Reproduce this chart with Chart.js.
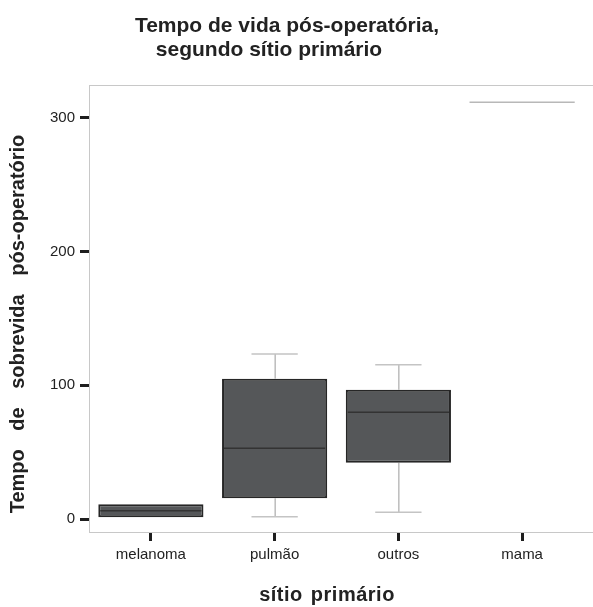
<!DOCTYPE html>
<html>
<head>
<meta charset="utf-8">
<script src="https://cdn.jsdelivr.net/npm/chart.js@4"></script>
<style>
  html, body { margin: 0; padding: 0; background: #fff; }
  #wrap { width: 593px; height: 607px; }
</style>
</head>
<body>
<div id="wrap"><canvas id="boxChart"></canvas></div>
<script>
// dados
const categorias = ['melanoma', 'pulmão', 'outros', 'mama'];
const bigodeMin = [1.3, 1.7, 5.0, 311.7];
const q1 = [1.3, 15.5, 42.1, 311.7];
const mediana = [6.2, 52.9, 79.8, 311.7];
const q3 = [11.0, 105.0, 96.7, 311.7];
const bigodeMax = [11.0, 123.4, 115.4, 311.7];
const yTicks = [0, 100, 200, 300];

const fonte = '"Liberation Sans", Arial, sans-serif';

const boxPlugin = {
    id: 'boxExtras',
    beforeDatasetsDraw(chart) {
        const { ctx, chartArea, width } = chart;
        ctx.save();
        ctx.strokeStyle = '#c8c8c8';
        ctx.lineWidth = 1;
        ctx.beginPath();
        ctx.moveTo(chartArea.left, chartArea.top + 0.5);
        ctx.lineTo(width, chartArea.top + 0.5);
        ctx.moveTo(chartArea.right, chartArea.bottom + 0.5);
        ctx.lineTo(width, chartArea.bottom + 0.5);
        ctx.stroke();

        // bigodes
        const x = chart.scales.x, y = chart.scales.y;
        const meta = chart.getDatasetMeta(0);
        meta.data.forEach((bar, i) => {
            if (q1[i] === q3[i]) return;
            const cx = x.getPixelForValue(i);
            const capW = bar.width * 0.44;
            ctx.strokeStyle = '#9a9a9a';
            ctx.lineWidth = 1;
            ctx.beginPath();
            ctx.moveTo(cx + 0.5, y.getPixelForValue(bigodeMax[i]));
            ctx.lineTo(cx + 0.5, y.getPixelForValue(q3[i]));
            ctx.moveTo(cx + 0.5, y.getPixelForValue(q1[i]));
            ctx.lineTo(cx + 0.5, y.getPixelForValue(bigodeMin[i]));
            ctx.stroke();
            ctx.strokeStyle = '#c4c4c4';
            ctx.lineWidth = 1.5;
            ctx.beginPath();
            [bigodeMax[i], bigodeMin[i]].forEach(v => {
                if (v === q1[i] || v === q3[i]) return;
                const py = y.getPixelForValue(v);
                ctx.moveTo(cx - capW / 2, py);
                ctx.lineTo(cx + capW / 2, py);
            });
            ctx.stroke();
        });
        ctx.restore();
    },
    afterDatasetsDraw(chart) {
        const { ctx } = chart;
        const x = chart.scales.x, y = chart.scales.y;
        const meta = chart.getDatasetMeta(0);
        ctx.save();
        meta.data.forEach((bar, i) => {
            const cx = x.getPixelForValue(i);
            const py = y.getPixelForValue(mediana[i]);
            const unico = q1[i] === q3[i];
            ctx.strokeStyle = unico ? '#b8b8b8' : '#333';
            ctx.lineWidth = 1.5;
            ctx.beginPath();
            ctx.moveTo(cx - bar.width / 2 + (unico ? 0 : 2), py);
            ctx.lineTo(cx + bar.width / 2 - (unico ? 0 : 2), py);
            ctx.stroke();
        });
        ctx.restore();
    },
    afterDraw(chart) {
        const { ctx } = chart;
        ctx.save();
        ctx.fillStyle = '#222';
        ctx.textAlign = 'center';
        ctx.textBaseline = 'alphabetic';
        ctx.font = 'bold 21px ' + fonte;
        ctx.fillText('Tempo de vida pós-operatória,', 287, 32);
        ctx.fillText('segundo sítio primário', 269, 56);

        ctx.font = 'bold 20px ' + fonte;
        ctx.letterSpacing = '0.5px';
        ctx.wordSpacing = '2px';
        ctx.fillText('sítio primário', 327, 601);

        ctx.font = 'bold 20px ' + fonte;
        ctx.letterSpacing = '0px';
        ctx.wordSpacing = '13px';
        ctx.textBaseline = 'middle';
        ctx.translate(18, 324);
        ctx.rotate(-Math.PI / 2);
        ctx.fillText('Tempo de sobrevida pós-operatório', 0, 0);
        ctx.restore();
    }
};

new Chart(document.getElementById('boxChart').getContext('2d'), {
    type: 'bar',
    data: {
        labels: categorias,
        datasets: [{
            data: categorias.map((c, i) => [q1[i], q3[i]]),
            backgroundColor: categorias.map((c, i) => q1[i] === q3[i] ? 'rgba(0,0,0,0)' : '#555759'),
            borderColor: '#262626',
            borderWidth: categorias.map((c, i) => q1[i] === q3[i] ? 0 : 2),
            borderSkipped: false,
            barPercentage: 0.85,
            categoryPercentage: 1
        }]
    },
    options: {
        responsive: true,
        maintainAspectRatio: false,
        animation: false,
        layout: { padding: { top: 85, right: 9, left: 0, bottom: 0 } },
        plugins: { legend: { display: false }, tooltip: { enabled: false }, title: { display: false } },
        scales: {
            x: {
                grid: { offset: false, drawOnChartArea: false, drawTicks: true, tickLength: 9, tickWidth: 3, tickColor: '#1e1e1e' },
                border: { display: true, color: '#c8c8c8', width: 1 },
                ticks: { color: '#222', font: { family: fonte, size: 15 }, padding: 5, maxRotation: 0 },
                afterFit(scale) { scale.height = 75; }
            },
            y: {
                min: -9.7,
                max: 324.6,
                afterBuildTicks(scale) { scale.ticks = yTicks.map(v => ({ value: v })); },
                grid: { drawOnChartArea: false, drawTicks: true, tickLength: 9, tickWidth: 3, tickColor: '#1e1e1e' },
                border: { display: true, color: '#c8c8c8', width: 1 },
                ticks: { color: '#222', font: { family: fonte, size: 15 }, padding: 5 },
                afterFit(scale) { scale.width = 89; }
            }
        }
    },
    plugins: [boxPlugin]
});
</script>
</body>
</html>
